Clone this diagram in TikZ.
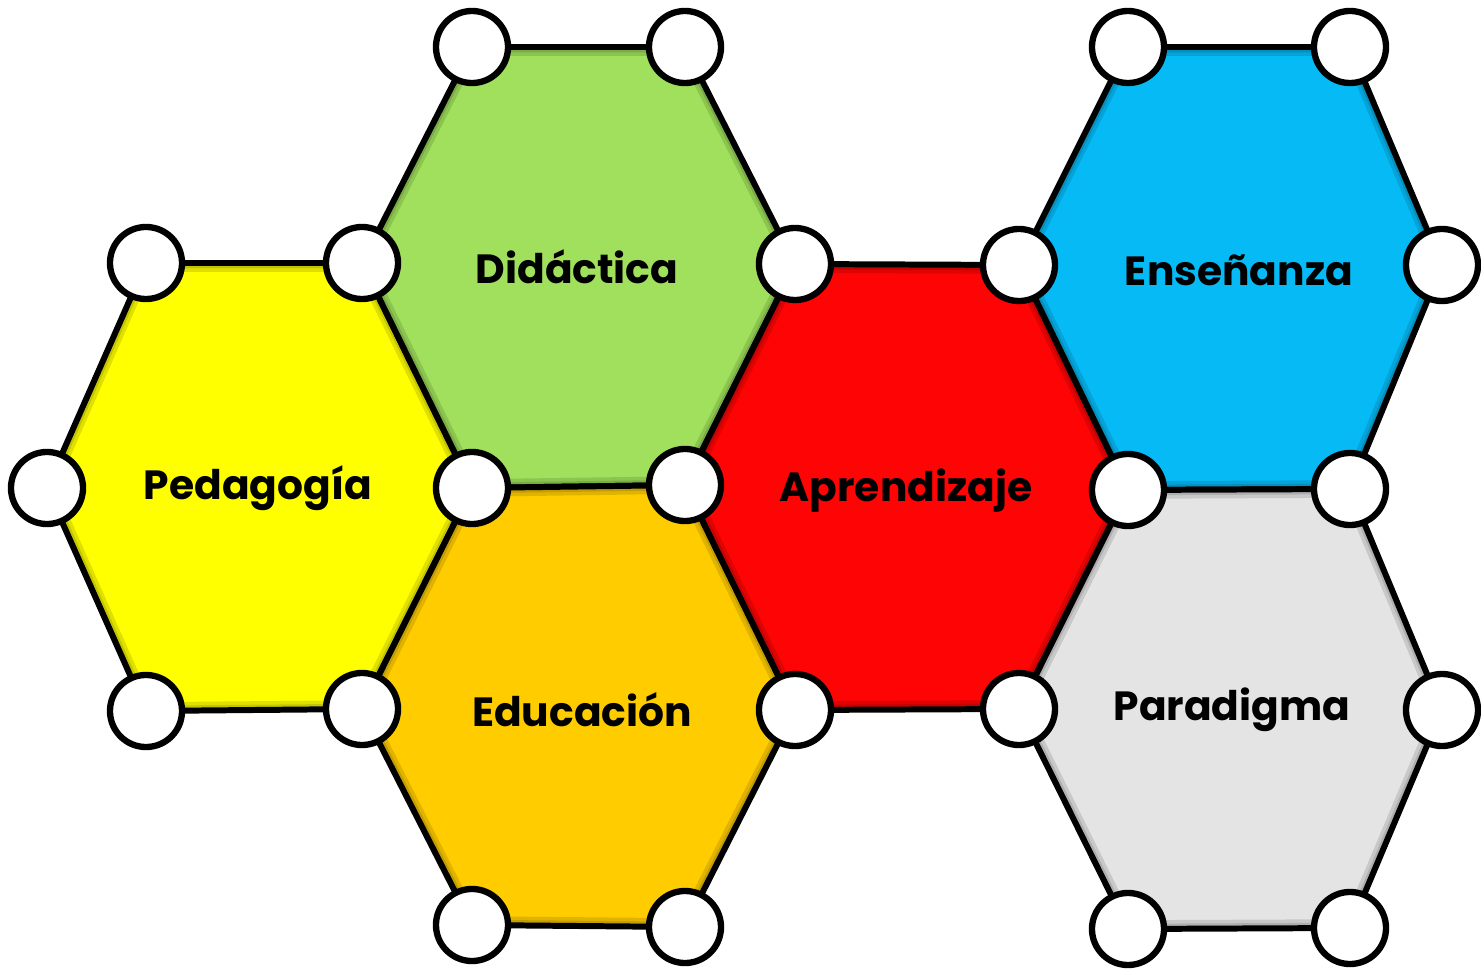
\documentclass[tikz,border=0pt]{standalone}
\usepackage{fontspec}
\setmainfont{Poppins}
\definecolor{hexyellow}{HTML}{FFFF00}
\definecolor{hexgreen}{HTML}{A0E05C}
\definecolor{hexorange}{HTML}{FFCC00}
\definecolor{hexred}{HTML}{FE0404}
\definecolor{hexblue}{HTML}{06BAF6}
\definecolor{hexgrey}{HTML}{E4E4E4}

\begin{document}
\begin{tikzpicture}[x=0.01cm, y=-0.01cm,
	vertex/.style={circle, draw, fill=white, line width=1.8pt, minimum size=0.72cm, inner sep=0pt},
	hexbox/.style={draw, line width=1.7pt, line join=round},
	hextext/.style={font=\fontsize{11.6}{14}\selectfont\bfseries}]

	\useasboundingbox (0,0) rectangle (1481,970);

	\coordinate (a1) at (472, 47);
	\coordinate (a2) at (685, 47);
	\coordinate (a3) at (1128, 47);
	\coordinate (a4) at (1350, 47);
	\coordinate (b1) at (146, 263);
	\coordinate (b2) at (362, 263);
	\coordinate (b3) at (795, 264);
	\coordinate (b4) at (1019, 265);
	\coordinate (b5) at (1442, 265);
	\coordinate (c1) at (47, 488);
	\coordinate (c2) at (472, 488);
	\coordinate (c3) at (685, 485);
	\coordinate (c4) at (1128, 490);
	\coordinate (c5) at (1350, 489);
	\coordinate (d1) at (146, 711);
	\coordinate (d2) at (362, 709);
	\coordinate (d3) at (795, 710);
	\coordinate (d4) at (1019, 709);
	\coordinate (d5) at (1442, 710);
	\coordinate (e1) at (472, 925);
	\coordinate (e2) at (685, 927);
	\coordinate (e3) at (1128, 929);
	\coordinate (e4) at (1350, 928);

	\foreach \p/\q/\r/\s/\t/\u/\col in {c1/b1/b2/c2/d2/d1/hexyellow, b2/a1/a2/b3/c3/c2/hexgreen,
		d2/c2/c3/d3/e2/e1/hexorange, c3/b3/b4/c4/d4/d3/hexred,
		b4/a3/a4/b5/c5/c4/hexblue, d4/c4/c5/d5/e4/e3/hexgrey}{
		\begin{scope}
			\clip (\p) -- (\q) -- (\r) -- (\s) -- (\t) -- (\u) -- cycle;
			\fill[\col] (\p) -- (\q) -- (\r) -- (\s) -- (\t) -- (\u) -- cycle;
			\draw[black, opacity=0.12, line width=5pt] (\p) -- (\q) -- (\r) -- (\s) -- (\t) -- (\u) -- cycle;
			\draw[black, opacity=0.12, line width=3pt] (\p) -- (\q) -- (\r) -- (\s) -- (\t) -- (\u) -- cycle;
		\end{scope}
		\draw[hexbox] (\p) -- (\q) -- (\r) -- (\s) -- (\t) -- (\u) -- cycle;
	}

	\foreach \v in {a1,a2,a3,a4,b1,b2,b3,b4,b5,c1,c2,c3,c4,c5,d1,d2,d3,d4,d5,e1,e2,e3,e4}
		\node (v\v) [vertex] at (\v) {};

	\node (ped) [hextext] at (258, 488) {Pedagogía};
	\node (did) [hextext] at (577, 267) {Didáctica};
	\node (edu) [hextext] at (582, 710) {Educación};
	\node (apr) [hextext] at (906, 491) {Aprendizaje};
	\node (ens) [hextext] at (1239, 270) {Enseñanza};
	\node (par) [hextext] at (1232, 710) {Paradigma};

\end{tikzpicture}
\end{document}
